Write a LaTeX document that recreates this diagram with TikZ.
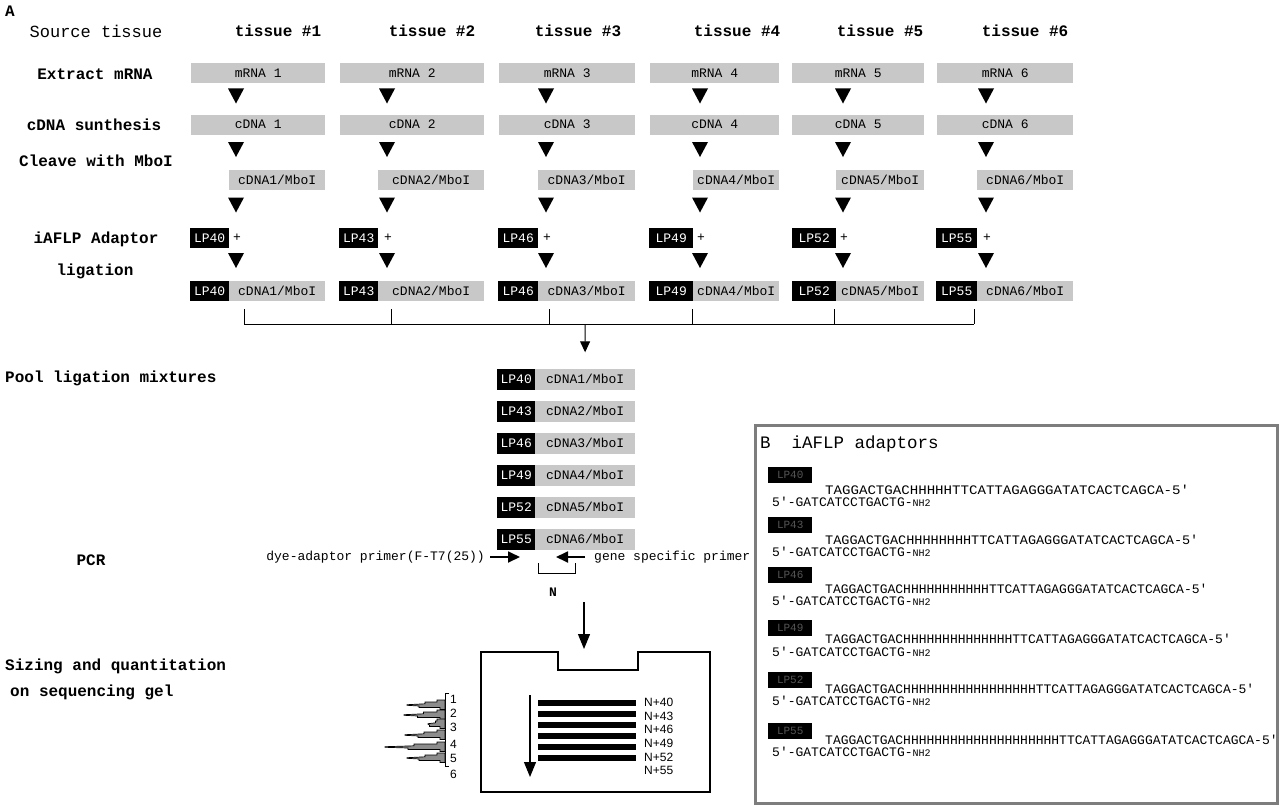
\documentclass[tikz,border=0pt]{standalone}
\usepackage{graphicx}
\usepackage{fontspec}
\setmonofont{Liberation Mono}
\setsansfont{Liberation Sans}
\usetikzlibrary{arrows.meta,calc}
\definecolor{boxgray}{RGB}{200,200,200}
\definecolor{framegray}{RGB}{125,125,125}
\definecolor{lpgray}{RGB}{85,85,85}
\definecolor{peakgray}{RGB}{140,140,140}
\newcommand\fs[1]{\fontsize{#1}{#1}\selectfont}
\newcommand\sq{\textquotesingle}
\begin{document}
\begin{tikzpicture}[x=1pt,y=-1pt,
  lbl/.style={font=\ttfamily\bfseries\fs{16}, inner sep=0},
  hdr/.style={font=\ttfamily\bfseries\fs{16}, inner sep=0},
  gbox/.style={fill=boxgray, inner sep=0, minimum height=20, font=\ttfamily\fs{13}, anchor=west},
  lpbox/.style={fill=black, text=white, inner sep=0, minimum height=20, font=\ttfamily\fs{13}, anchor=west},
  plainmono/.style={font=\ttfamily\fs{13}, inner sep=0},
  seq/.style={font=\ttfamily\fs{13}, inner sep=0, anchor=west},
  blp/.style={fill=black, text=lpgray, minimum width=44, minimum height=16, inner sep=0, font=\ttfamily\fs{11}, anchor=west},
  gellbl/.style={font=\sffamily\fs{12}, inner sep=0, anchor=west},
  pcrarrow/.style={line width=1.8, -{Triangle[length=12,width=11]}},
  bigarrow/.style={line width=1.2, -{Triangle[length=15,width=12]}},
  dtri/.pic={\fill (-8,-7.5) -- (8,-7.5) -- (0,7.5) -- cycle;}
]
\fill[white] (0,0) rectangle (1280,808);
\useasboundingbox (0,0) rectangle (1280,808);

% ---------- Panel A labels ----------
\node[font=\ttfamily\bfseries\fs{16}, inner sep=0] (A) at (10,11) {A};
\node[font=\ttfamily\fs{17}, inner sep=0] (src) at (96,31) {Source tissue};
\node[lbl] (lext) at (95,74) {Extract mRNA};
\node[lbl] (lcdna) at (94,125) {cDNA sunthesis};
\node[lbl] (lclv) at (96,161) {Cleave with MboI};
\node[lbl] (ladp) at (96,239) {iAFLP Adaptor};
\node[lbl] (llig) at (95,271) {ligation};
\node[lbl, anchor=west] (lpool) at (5,378) {Pool ligation mixtures};
\node[lbl] (lpcr) at (91,560) {PCR};
\node[lbl, anchor=west] (lsz1) at (5,666) {Sizing and quantitation};
\node[lbl, anchor=west] (lsz2) at (10,692) {on sequencing gel};

% ---------- tissue headers ----------
\foreach \i/\xx in {1/278,2/432,3/578,4/737,5/880,6/1025}{
  \node[hdr] (t\i) at (\xx,31) {tissue \#\i};
}

% ---------- columns ----------
\foreach \i/\xa/\xb/\xl/\xe/\xt in {1/191/325/190/229/236, 2/340/484/339/378/387, 3/499/635/498/538/546, 4/650/779/649/693/700, 5/792/924/792/836/843, 6/937/1073/936/977/986}{
  \pgfmathtruncatemacro\nn{37+3*\i}
  \node[gbox, minimum width={\xb-\xa}] (m\i) at (\xa,73) {mRNA \i};
  \node[gbox, minimum width={\xb-\xa}] (c\i) at (\xa,124.5) {cDNA \i};
  \node[gbox, minimum width={\xb-\xe}] (k\i) at (\xe,180) {cDNA\i/MboI};
  \node[lpbox, minimum width={\xe-\xl}] (la\i) at (\xl,238) {LP\nn};
  \node[plainmono] (plus\i) at (\xt+1,238) {+};
  \node[lpbox, minimum width={\xe-\xl}] (lb\i) at (\xl,291) {LP\nn};
  \node[gbox, minimum width={\xb-\xe}] (g\i) at (\xe,291) {cDNA\i/MboI};
  \pic at (\xt,96) {dtri};
  \pic at (\xt,149.5) {dtri};
  \pic at (\xt,205) {dtri};
  \pic at (\xt,260.5) {dtri};
}

% ---------- bracket to pool ----------
\foreach \i/\xx in {1/244,2/391,3/549,4/692,5/834,6/974}{
  \coordinate (bt\i) at (\xx,309);
  \coordinate (bb\i) at (\xx,324);
  \draw[line width=1] (bt\i) -- (bb\i);
}
\draw[line width=1] (bb1) -- (bb6);
\coordinate (bm) at (585,324);

% ---------- pool ----------
\foreach \i/\yy in {1/379,2/411,3/443,4/475,5/507,6/539}{
  \pgfmathtruncatemacro\nn{37+3*\i}
  \node[lpbox, minimum width=38, minimum height=21] (p\i) at (497,\yy) {LP\nn};
  \node[gbox, minimum width=100, minimum height=21] (q\i) at (535,\yy) {cDNA\i/MboI};
}
\draw[line width=1, -{Triangle[length=11,width=10]}, shorten >=16] (bm) -- (q1.north);

% ---------- PCR ----------
\node[plainmono, anchor=east] (dye) at (485,557) {dye-adaptor primer(F-T7(25))};
\node[plainmono, anchor=west] (gsp) at (594,557) {gene specific primer};
\coordinate (ra1) at (490,557); \coordinate (ra2) at (520,557);
\coordinate (la1) at (585,557); \coordinate (la2) at (556,557);
\draw[pcrarrow] (ra1) -- (ra2);
\draw[pcrarrow] (la1) -- (la2);
\draw[line width=1] (538,563) -- (538,573) -- (575,573) -- (575,563);
\node[font=\ttfamily\bfseries\fs{13}, inner sep=0] (N) at (553,592) {N};
\coordinate (ga1) at (584,602); \coordinate (ga2) at (584,649);
\draw[bigarrow] (ga1) -- (ga2);

% ---------- gel ----------
\draw[line width=1.2] (481,652) -- (558,652) -- (558,670) -- (638,670) -- (638,652) -- (710,652) -- (710,792) -- (481,792) -- cycle;
\coordinate (ia1) at (530,695); \coordinate (ia2) at (530,777);
\draw[bigarrow] (ia1) -- (ia2);
\foreach \yy in {703,714,725,736,747,758}{
  \fill (538,\yy-2.75) rectangle (636,\yy+2.75);
}
\foreach \k/\yy in {40/702,43/716,46/729,49/743,52/757,55/770}{
  \node[gellbl] (nl\k) at (644,\yy) {N+\k};
}
\foreach \k/\yy in {1/699,2/713,3/727,4/744,5/758,6/774}{
  \node[gellbl] (tn\k) at (450,\yy) {\k};
}
% trace
\draw[line width=0.8] (449,693) -- (445,693) -- (445,766) -- (449,766);
\foreach \c/\L in {705/407,715/404,724/428,735/405,747/385,758/407}{
  \pgfmathsetmacro\M{(\L+437)/2+3}
  \filldraw[fill=peakgray, line width=0.7]
    (445,\c-5) -- (437,\c-5) -- (437,\c-3) -- (\M,\c-3) -- (\M,\c-1.2) -- (\L,\c-0.3)
    -- (\L,\c+0.3) -- (\M-6,\c+1) -- (\M-6,\c+2.5) -- (440,\c+2.5) -- (440,\c+4.5) -- (445,\c+4.5) -- cycle;
}

% ---------- Panel B ----------
\draw[framegray, line width=3] (755,425) rectangle (1277,803);
\node[font=\ttfamily\fs{17.5}, inner sep=0, anchor=west] (btitle) at (760,444) {B\ \ iAFLP adaptors};

\node[blp] (b1) at (768,475) {LP40};
\node[seq] (s1) at (825,490) {\scalebox{1.085}[1]{TAGGACTGACHHHHHTTCATTAGAGGGATATCACTCAGCA-5\sq}};
\node[seq] (r1) at (772,502) {5\sq-GATCATCCTGACTG-{\fs{10}NH2}};

\node[blp] (b2) at (768,525) {LP43};
\node[seq] (s2) at (825,540) {\scalebox{1.04}[1]{TAGGACTGACHHHHHHHHTTCATTAGAGGGATATCACTCAGCA-5\sq}};
\node[seq] (r2) at (772,552) {5\sq-GATCATCCTGACTG-{\fs{10}NH2}};

\node[blp] (b3) at (768,575) {LP46};
\node[seq] (s3) at (825,589) {TAGGACTGACHHHHHHHHHHHTTCATTAGAGGGATATCACTCAGCA-5\sq};
\node[seq] (r3) at (772,601) {5\sq-GATCATCCTGACTG-{\fs{10}NH2}};

\node[blp] (b4) at (768,627.5) {LP49};
\node[seq] (s4) at (825,639) {TAGGACTGACHHHHHHHHHHHHHHTTCATTAGAGGGATATCACTCAGCA-5\sq};
\node[seq] (r4) at (772,652) {5\sq-GATCATCCTGACTG-{\fs{10}NH2}};

\node[blp] (b5) at (768,679.5) {LP52};
\node[seq] (s5) at (825,689) {TAGGACTGACHHHHHHHHHHHHHHHHHTTCATTAGAGGGATATCACTCAGCA-5\sq};
\node[seq] (r5) at (772,701) {5\sq-GATCATCCTGACTG-{\fs{10}NH2}};

\node[blp] (b6) at (768,730.5) {LP55};
\node[seq] (s6) at (825,739.5) {TAGGACTGACHHHHHHHHHHHHHHHHHHHHTTCATTAGAGGGATATCACTCAGCA-5\sq};
\node[seq] (r6) at (772,752) {5\sq-GATCATCCTGACTG-{\fs{10}NH2}};
\end{tikzpicture}
\end{document}
